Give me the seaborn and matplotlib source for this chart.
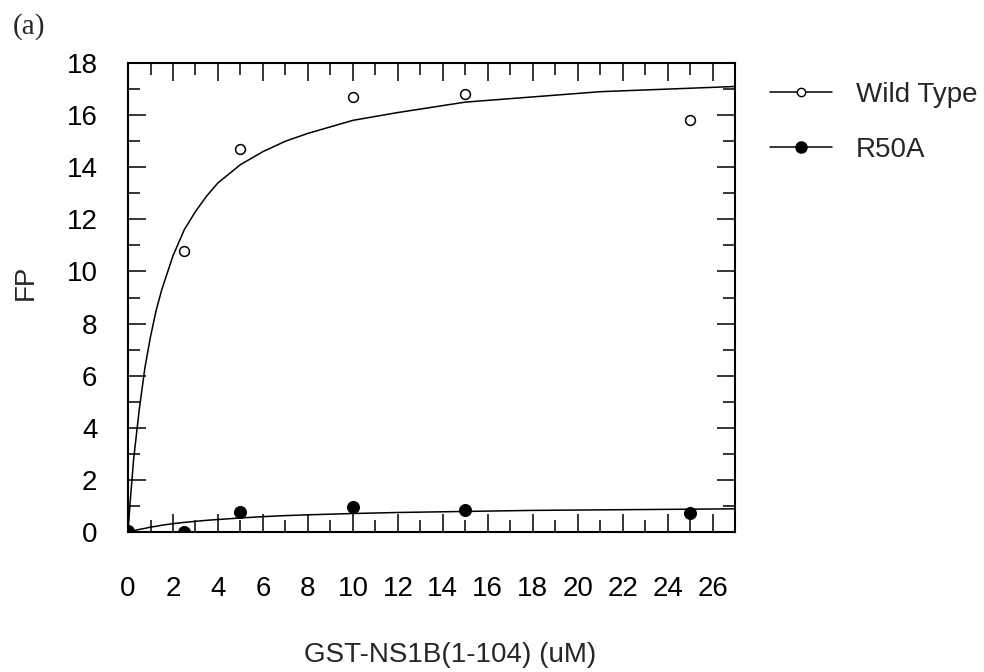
import pandas as pd
import seaborn as sns
import matplotlib.pyplot as plt
from matplotlib.lines import Line2D
from matplotlib.ticker import MultipleLocator

# measured points
conc = [0, 2.5, 5, 10, 15, 25]
fp_wild = [0.0, 10.8, 14.7, 16.7, 16.8, 15.8]
fp_r50a = [0.05, 0.0, 0.77, 0.96, 0.85, 0.73]

# fitted curves
fit_x = [0, 0.1, 0.25, 0.5, 0.75, 1, 1.25, 1.5, 2, 2.5, 3, 3.5, 4, 5, 6, 7, 8,
         10, 12, 15, 18, 21, 24, 27]
fit_wild = [0, 1.2, 2.8, 4.7, 6.3, 7.5, 8.5, 9.3, 10.6, 11.6, 12.3, 12.9, 13.4,
            14.1, 14.6, 15.0, 15.3, 15.8, 16.1, 16.5, 16.7, 16.9, 17.0, 17.1]
fit_r50a = [0, 0.02, 0.05, 0.1, 0.14, 0.19, 0.22, 0.26, 0.32, 0.37, 0.41, 0.45,
            0.48, 0.54, 0.59, 0.63, 0.66, 0.71, 0.75, 0.79, 0.83, 0.85, 0.87, 0.89]

series_names = ["Wild Type", "R50A"]


def make_plot():
    sns.set_style("ticks")
    plt.rcParams['font.family'] = ['Liberation Sans', 'DejaVu Sans']

    pts = pd.DataFrame({"conc": conc * 2,
                        "fp": fp_wild + fp_r50a,
                        "series": [series_names[0]] * len(conc) + [series_names[1]] * len(conc)})
    fits = pd.DataFrame({"conc": fit_x * 2,
                         "fp": fit_wild + fit_r50a,
                         "series": [series_names[0]] * len(fit_x) + [series_names[1]] * len(fit_x)})

    fig = plt.figure(figsize=(9.84, 6.72), dpi=100)
    ax = fig.add_axes([0.1301, 0.2083, 0.617, 0.6979])

    for name in series_names:
        sns.lineplot(data=fits[fits.series == name], x="conc", y="fp", ax=ax,
                     color="black", linewidth=1.1, estimator=None, sort=True)
    sns.scatterplot(data=pts[pts.series == series_names[0]], x="conc", y="fp", ax=ax,
                    marker="o", s=50, facecolor="white", edgecolor="black",
                    linewidth=1.1, zorder=3)
    sns.scatterplot(data=pts[pts.series == series_names[1]], x="conc", y="fp", ax=ax,
                    marker="o", s=75, color="black", edgecolor="black", zorder=4)

    ax.set_xlim(0, 27)
    ax.set_ylim(0, 18)
    ax.xaxis.set_major_locator(MultipleLocator(2))
    ax.xaxis.set_minor_locator(MultipleLocator(1))
    ax.yaxis.set_major_locator(MultipleLocator(2))
    ax.yaxis.set_minor_locator(MultipleLocator(1))
    ax.tick_params(which="both", direction="in", top=True, right=True,
                   width=1.1, colors="black", labelsize=20)
    ax.tick_params(which="major", length=13)
    ax.tick_params(which="minor", length=8.5)
    ax.tick_params(axis="x", which="major", pad=32)
    ax.tick_params(axis="y", which="major", pad=22)
    for sp in ax.spines.values():
        sp.set_visible(True)
        sp.set_linewidth(1.5)
        sp.set_color("black")

    ax.set_xlabel("GST-NS1B(1-104) (uM)", fontsize=20, va="center")
    ax.xaxis.set_label_coords(0.53, -0.262)
    ax.set_ylabel("FP", fontsize=20, va="center")
    ax.yaxis.set_label_coords(-0.168, 0.533)

    handles = [
        Line2D([], [], color="black", linewidth=1.1, marker="o", markersize=6,
               markerfacecolor="white", markeredgecolor="black"),
        Line2D([], [], color="black", linewidth=1.1, marker="o", markersize=8,
               markerfacecolor="black", markeredgecolor="black"),
    ]
    fig.legend(handles, series_names, loc="upper left",
               bbox_to_anchor=(0.7825, 0.878), frameon=False, fontsize=20,
               handlelength=2.23, handletextpad=0.86, labelspacing=1.03,
               borderpad=0, borderaxespad=0)

    fig.text(0.013, 0.96, "(a)", fontsize=21, family="Liberation Serif",
             va="center", ha="left")

    fig.savefig("out.png", dpi=100)


if __name__ == "__main__":
    make_plot()
